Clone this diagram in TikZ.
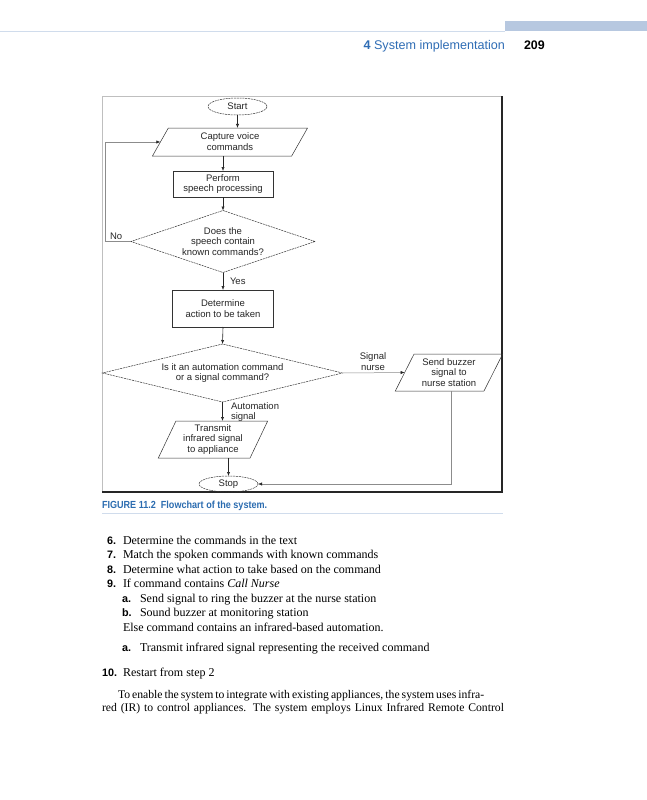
\documentclass[tikz,border=0pt]{standalone}
\usepackage{fontspec}
\usepackage{graphicx}
\setmainfont{Liberation Serif}
\newfontfamily\fsans{Liberation Sans}
\usetikzlibrary{shapes.geometric,arrows.meta}
\definecolor{hdrblue}{HTML}{2F6DB5}
\definecolor{barblue}{HTML}{B7C8E0}
\definecolor{lineblue}{HTML}{D0DCEC}
\definecolor{capblue}{HTML}{2B6CB0}
\begin{document}
\begin{tikzpicture}[x=1pt,y=-1pt,
  every node/.style={inner sep=0pt, outer sep=0pt},
  ftxt/.style={font=\fsans\fontsize{9.5}{10.8}\selectfont, align=center, text=black!85},
  term/.style={ftxt, ellipse, draw=black!80, line width=0.5pt, dash pattern=on 2pt off 0.8pt},
  proc/.style={ftxt, rectangle, draw=black!80, line width=0.5pt},
  io/.style={ftxt, trapezium, trapezium stretches=true, draw=black!80, line width=0.5pt},
  dec/.style={ftxt, diamond, draw=black!80, line width=0.5pt, dash pattern=on 2pt off 0.8pt},
  arr/.style={-{Latex[length=4pt,width=3.2pt]}, line width=0.6pt, black!85},
  garr/.style={-{Latex[length=4pt,width=3.2pt,color=black!85]}, line width=0.5pt, black!45},
  lbl/.style={ftxt},
  body/.style={font=\fontsize{12}{14}\selectfont, anchor=base west},
  pbody/.style={font=\fontsize{11.7}{13}\selectfont, anchor=base west},
  num/.style={font=\fsans\bfseries\fontsize{10.8}{13}\selectfont, anchor=base west},
]
\useasboundingbox (0,0) rectangle (647,800);
\fill[white] (0,0) rectangle (647,800);

% header
\fill[barblue] (505,21) rectangle (647,31);
\draw[lineblue, line width=0.8pt] (0,31) -- (505,31);
\node[anchor=base east, font=\fsans\fontsize{12.6}{14}\selectfont, text=hdrblue] (hdr) at (505,49) {\textbf{4} System implementation};
\node[anchor=base west, font=\fsans\bfseries\fontsize{12.4}{14}\selectfont] (pg) at (524,49) {209};

% frame
\draw[black!25, line width=0.6pt] (102,492) -- (102,96) -- (502,96);
\draw[black!85, line width=1.6pt] (502,96) -- (502,492) -- (102,492);

% flowchart nodes
\node[term, minimum width=59pt, minimum height=17pt] (start) at (237.5,106.5) {Start};
\node[io, trapezium left angle=67, trapezium right angle=113, minimum width=156pt, minimum height=28pt] (cap) at (230,142) {Capture voice\\commands};
\node[proc, minimum width=100pt, minimum height=26pt] (perf) at (223,184) {Perform\\speech processing};
\node[dec, aspect=3, minimum width=184pt, minimum height=62pt] (d1) at (223,241.5) {Does the\\speech contain\\known commands?};
\node[proc, minimum width=101pt, minimum height=37pt] (det) at (223,308.5) {Determine\\action to be taken};
\node[dec, aspect=4.1, minimum width=240pt, minimum height=58pt] (d2) at (222.5,373) {Is it an automation command\\or a signal command?};
\node[io, trapezium left angle=63, trapezium right angle=117, minimum width=108pt, minimum height=37pt] (buz) at (449,372.5) {Send buzzer\\signal to\\nurse station};
\node[io, trapezium left angle=65, trapezium right angle=115, minimum width=110pt, minimum height=37pt] (tra) at (213,439.5) {Transmit\\infrared signal\\to appliance};
\node[term, minimum width=59pt, minimum height=16pt] (stop) at (228.5,484) {Stop};

% labels
\node[lbl, anchor=base west] (no) at (110,239.5) {No};
\node[lbl, anchor=west] (yes) at (230,281) {Yes};
\node[lbl] (sig) at (373,362) {Signal\\nurse};
\node[lbl, anchor=west, align=left] (aut) at (231,412) {Automation\\signal};

% connectors
\draw[arr] (start.south) -- (start.south |- cap.north);
\draw[arr] (perf.north |- cap.south) -- (perf.north);
\draw[arr] (perf.south) -- (d1.north);
\draw[arr] (d1.south) -- (det.north);
\draw[arr] (det.south) -- (d2.north);
\draw[garr] (d1.west) -- ++(-25.5,0) |- (cap.west);
\draw[garr] (d2.east) -- (buz.west);
\draw[garr] ([xshift=2pt]buz.south) |- (stop.east);
\draw[arr] (d2.south) -- (d2.south |- tra.north);
\draw[arr] (stop.north |- tra.south) -- (stop.north);

% caption
\node[anchor=base west, text=capblue] (figcap) at (102,508) {\scalebox{0.88}[1]{\fsans\bfseries\fontsize{10.3}{12}\selectfont FIGURE 11.2\ \ Flowchart of the system.}};
\draw[lineblue, line width=0.5pt] (102,513) -- (503,513);

% body text
\node[num] (n6) at (107,544) {6.};
\node[body] (t6) at (123,544) {Determine the commands in the text};
\node[num] (n7) at (107,558) {7.};
\node[body] (t7) at (123,558) {Match the spoken commands with known commands};
\node[num] (n8) at (107,573) {8.};
\node[body] (t8) at (123,573) {Determine what action to take based on the command};
\node[num] (n9) at (107,587) {9.};
\node[body] (t9) at (123,587) {If command contains \textit{Call Nurse}};
\node[num] (na1) at (122,602) {a.};
\node[body] (ta1) at (140,602) {Send signal to ring the buzzer at the nurse station};
\node[num] (nb1) at (122,616) {b.};
\node[body] (tb1) at (140,616) {Sound buzzer at monitoring station};
\node[body] (te) at (123,631) {Else command contains an infrared-based automation.};
\node[num] (na2) at (122,651.5) {a.};
\node[body] (ta2) at (140,651.5) {Transmit infrared signal representing the received command};
\node[num] (n10) at (102,676) {10.};
\node[body] (t10) at (123,676) {Restart from step 2};
\node[pbody] (p1) at (118,698) {\makebox[362pt][s]{To enable the system to integrate with existing appliances, the system uses infra-}};
\node[pbody] (p2) at (102,711) {\makebox[402pt][s]{red (IR) to control appliances. The system employs Linux Infrared Remote Control}};
\end{tikzpicture}
\end{document}
